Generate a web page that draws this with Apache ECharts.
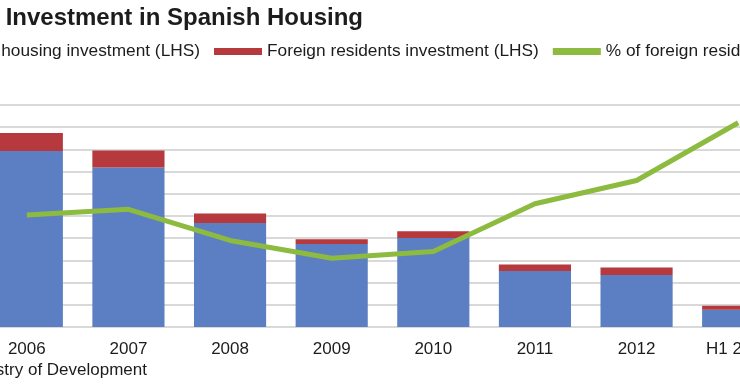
<!DOCTYPE html>
<html>
<head>
<meta charset="utf-8">
<script src="https://cdn.jsdelivr.net/npm/echarts@6/dist/echarts.min.js"></script>
<style>
html,body{margin:0;padding:0;background:#fff;}
#chart{width:740px;height:389px;}
</style>
</head>
<body>
<div id="chart"></div>
<script>
// ---- data ----
const categories = ['2006', '2007', '2008', '2009', '2010', '2011', '2012', 'H1 2013'];
const residentsInvestment = [79.3, 71.8, 46.8, 37.4, 40.1, 25.2, 23.4, 7.8];
const foreignInvestment = [8.1, 7.7, 4.3, 2.1, 3.0, 2.9, 3.4, 1.8];
const foreignShare = [10.1, 10.6, 7.8, 6.2, 6.8, 11.1, 13.2, 18.4];
const seriesNames = [
  'Spanish residents housing investment (LHS)',
  'Foreign residents investment (LHS)',
  '% of foreign residents investment (RHS)'
];
const titleText = 'Investment in Spanish Housing';
const sourceText = 'Source: Ministry of Development';

const FONT = '"Liberation Sans", Arial, sans-serif';
const legendFontSize = 17.3;
const ctx = document.createElement('canvas').getContext('2d');
ctx.font = legendFontSize + 'px ' + FONT;
const firstNameWidth = ctx.measureText(seriesNames[0]).width;
const legendLeft = 200 - firstNameWidth - 5 - 48;

const chart = echarts.init(document.getElementById('chart'), null, {renderer: 'canvas'});
chart.setOption({
  animation: false,
  backgroundColor: '#ffffff',
  textStyle: {fontFamily: FONT},
  graphic: [
    {
      type: 'text', x: 363, y: 18,
      style: {text: titleText, font: 'bold 24px ' + FONT, fill: '#1c1c1c', align: 'right', verticalAlign: 'middle'}
    },
    {
      type: 'text', x: 147, y: 370,
      style: {text: sourceText, font: '17px ' + FONT, fill: '#1c1c1c', align: 'right', verticalAlign: 'middle'}
    }
  ],
  legend: {
    left: legendLeft,
    top: 43,
    width: 2000,
    padding: 0,
    itemGap: 14,
    itemWidth: 48,
    itemHeight: 7,
    icon: 'rect',
    textStyle: {fontSize: legendFontSize, color: '#1c1c1c', fontFamily: FONT},
    data: seriesNames
  },
  grid: {
    left: -24,
    right: -49,
    top: 105,
    bottom: 62,
    containLabel: false,
    outerBoundsMode: 'none'
  },
  xAxis: {
    type: 'category',
    data: categories,
    axisLine: {show: true, lineStyle: {color: '#d9d9d9', width: 2}},
    axisTick: {show: false},
    axisLabel: {fontSize: 17, color: '#1c1c1c', margin: 14, fontFamily: FONT}
  },
  yAxis: [
    {
      type: 'value', min: 0, max: 100, interval: 10,
      axisLabel: {show: false}, axisLine: {show: false}, axisTick: {show: false},
      splitLine: {show: true, lineStyle: {color: '#d9d9d9', width: 2}}
    },
    {
      type: 'value', min: 0, max: 20, interval: 2,
      axisLabel: {show: false}, axisLine: {show: false}, axisTick: {show: false},
      splitLine: {show: false}
    }
  ],
  series: [
    {
      name: seriesNames[0], type: 'bar', stack: 'inv', data: residentsInvestment,
      barCategoryGap: '29%', itemStyle: {color: '#5b7fc2'}
    },
    {
      name: seriesNames[1], type: 'bar', stack: 'inv', data: foreignInvestment,
      itemStyle: {color: '#b5393d'}
    },
    {
      name: seriesNames[2], type: 'line', yAxisIndex: 1, data: foreignShare,
      symbol: 'none', itemStyle: {color: '#8cbb3f'},
      lineStyle: {color: '#8cbb3f', width: 5, join: 'round'}, z: 5
    }
  ]
});
</script>
</body>
</html>
